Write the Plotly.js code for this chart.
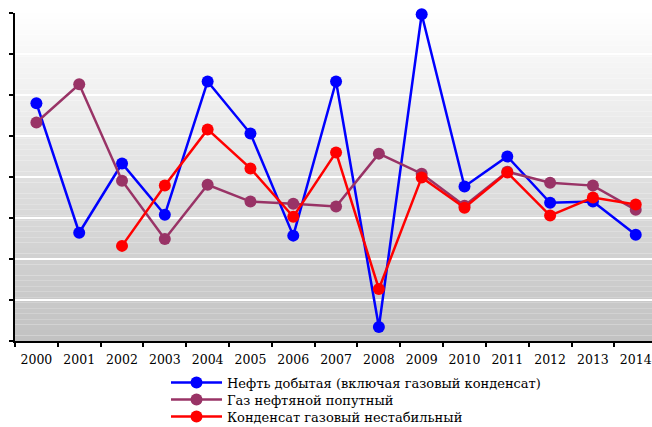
<!DOCTYPE html>
<html><head><meta charset="utf-8">
<script src="https://cdn.plot.ly/plotly-3.0.1.min.js"></script>
<style>html,body{margin:0;padding:0;background:#fff}#c{width:652px;height:427px}</style>
</head><body><div id="c"></div>
<script>
var years = ['2000','2001','2002','2003','2004','2005','2006','2007','2008','2009','2010','2011','2012','2013','2014'];
var oilValues = [5.80,2.64,4.33,3.08,6.33,5.06,2.57,6.33,0.34,7.97,3.77,4.50,3.37,3.40,2.59];
var gasValues = [5.33,6.26,3.91,2.49,3.81,3.40,3.35,3.28,4.57,4.08,3.30,4.13,3.86,3.79,3.20];
var condensateValues = [null,null,2.32,3.79,5.16,4.21,3.03,4.60,1.27,3.99,3.25,4.11,3.06,3.50,3.33];
var seriesNames = ['Нефть добытая (включая газовый конденсат)','Газ нефтяной попутный','Конденсат газовый нестабильный'];
var seriesColors = ['#0000FF','#993366','#FF0000'];

var FONT = 'DejaVu Serif';
var allValues = [oilValues, gasValues, condensateValues];
var legendIds = ['legend','legend2','legend3'];
var traces = allValues.map(function(v,i){
  return {x: years, y: v, name: seriesNames[i], type:'scatter', mode:'lines+markers',
    line:{color: seriesColors[i], width:2.5}, marker:{color: seriesColors[i], size:12},
    cliponaxis:false, connectgaps:false, legend: legendIds[i]};
});

// gradient background strips
var shapes = [];
var N = 60;
for (var k=0;k<N;k++){
  var t = (k+0.5)/N; // from bottom
  var c = Math.round(193 + (255-193)*t);
  shapes.push({type:'rect', xref:'paper', yref:'paper', x0:0, x1:1, y0:k/N, y1:(k+1)/N,
    fillcolor:'rgb('+c+','+c+','+c+')', line:{width:0}, layer:'below'});
}

function legendAt(yPix){
  return {orientation:'v', xref:'container', yref:'container', x:166/652, y:1-yPix/427,
    xanchor:'left', yanchor:'middle', itemwidth:51,
    font:{family:FONT, size:13, color:'#000'}, bgcolor:'rgba(0,0,0,0)', borderwidth:0};
}

var layout = {
  width:652, height:427,
  margin:{l:15, r:0, t:13, b:86, autoexpand:false},
  paper_bgcolor:'#ffffff', plot_bgcolor:'rgba(0,0,0,0)',
  font:{family:FONT, size:13, color:'#000'},
  showlegend:true,
  legend: legendAt(382.5), legend2: legendAt(399.5), legend3: legendAt(416.5),
  xaxis:{type:'category', range:[-0.5,14.38], tickson:'boundaries', ticks:'outside', ticklen:4, tickwidth:2,
    tickcolor:'#000', showline:true, linecolor:'#000', linewidth:2, showgrid:false, zeroline:false,
    tickangle:0, ticklabelstandoff:6, tickfont:{family:FONT, size:12.5}, fixedrange:true},
  yaxis:{range:[0,8], dtick:1, ticks:'outside', ticklen:4, tickwidth:2, tickcolor:'#000',
    showline:true, linecolor:'#000', linewidth:2, showgrid:true, gridcolor:'#ffffff', gridwidth:2,
    zeroline:false, showticklabels:false, fixedrange:true},
  shapes: shapes
};
Plotly.newPlot('c', traces, layout, {displayModeBar:false, staticPlot:true});
</script></body></html>
